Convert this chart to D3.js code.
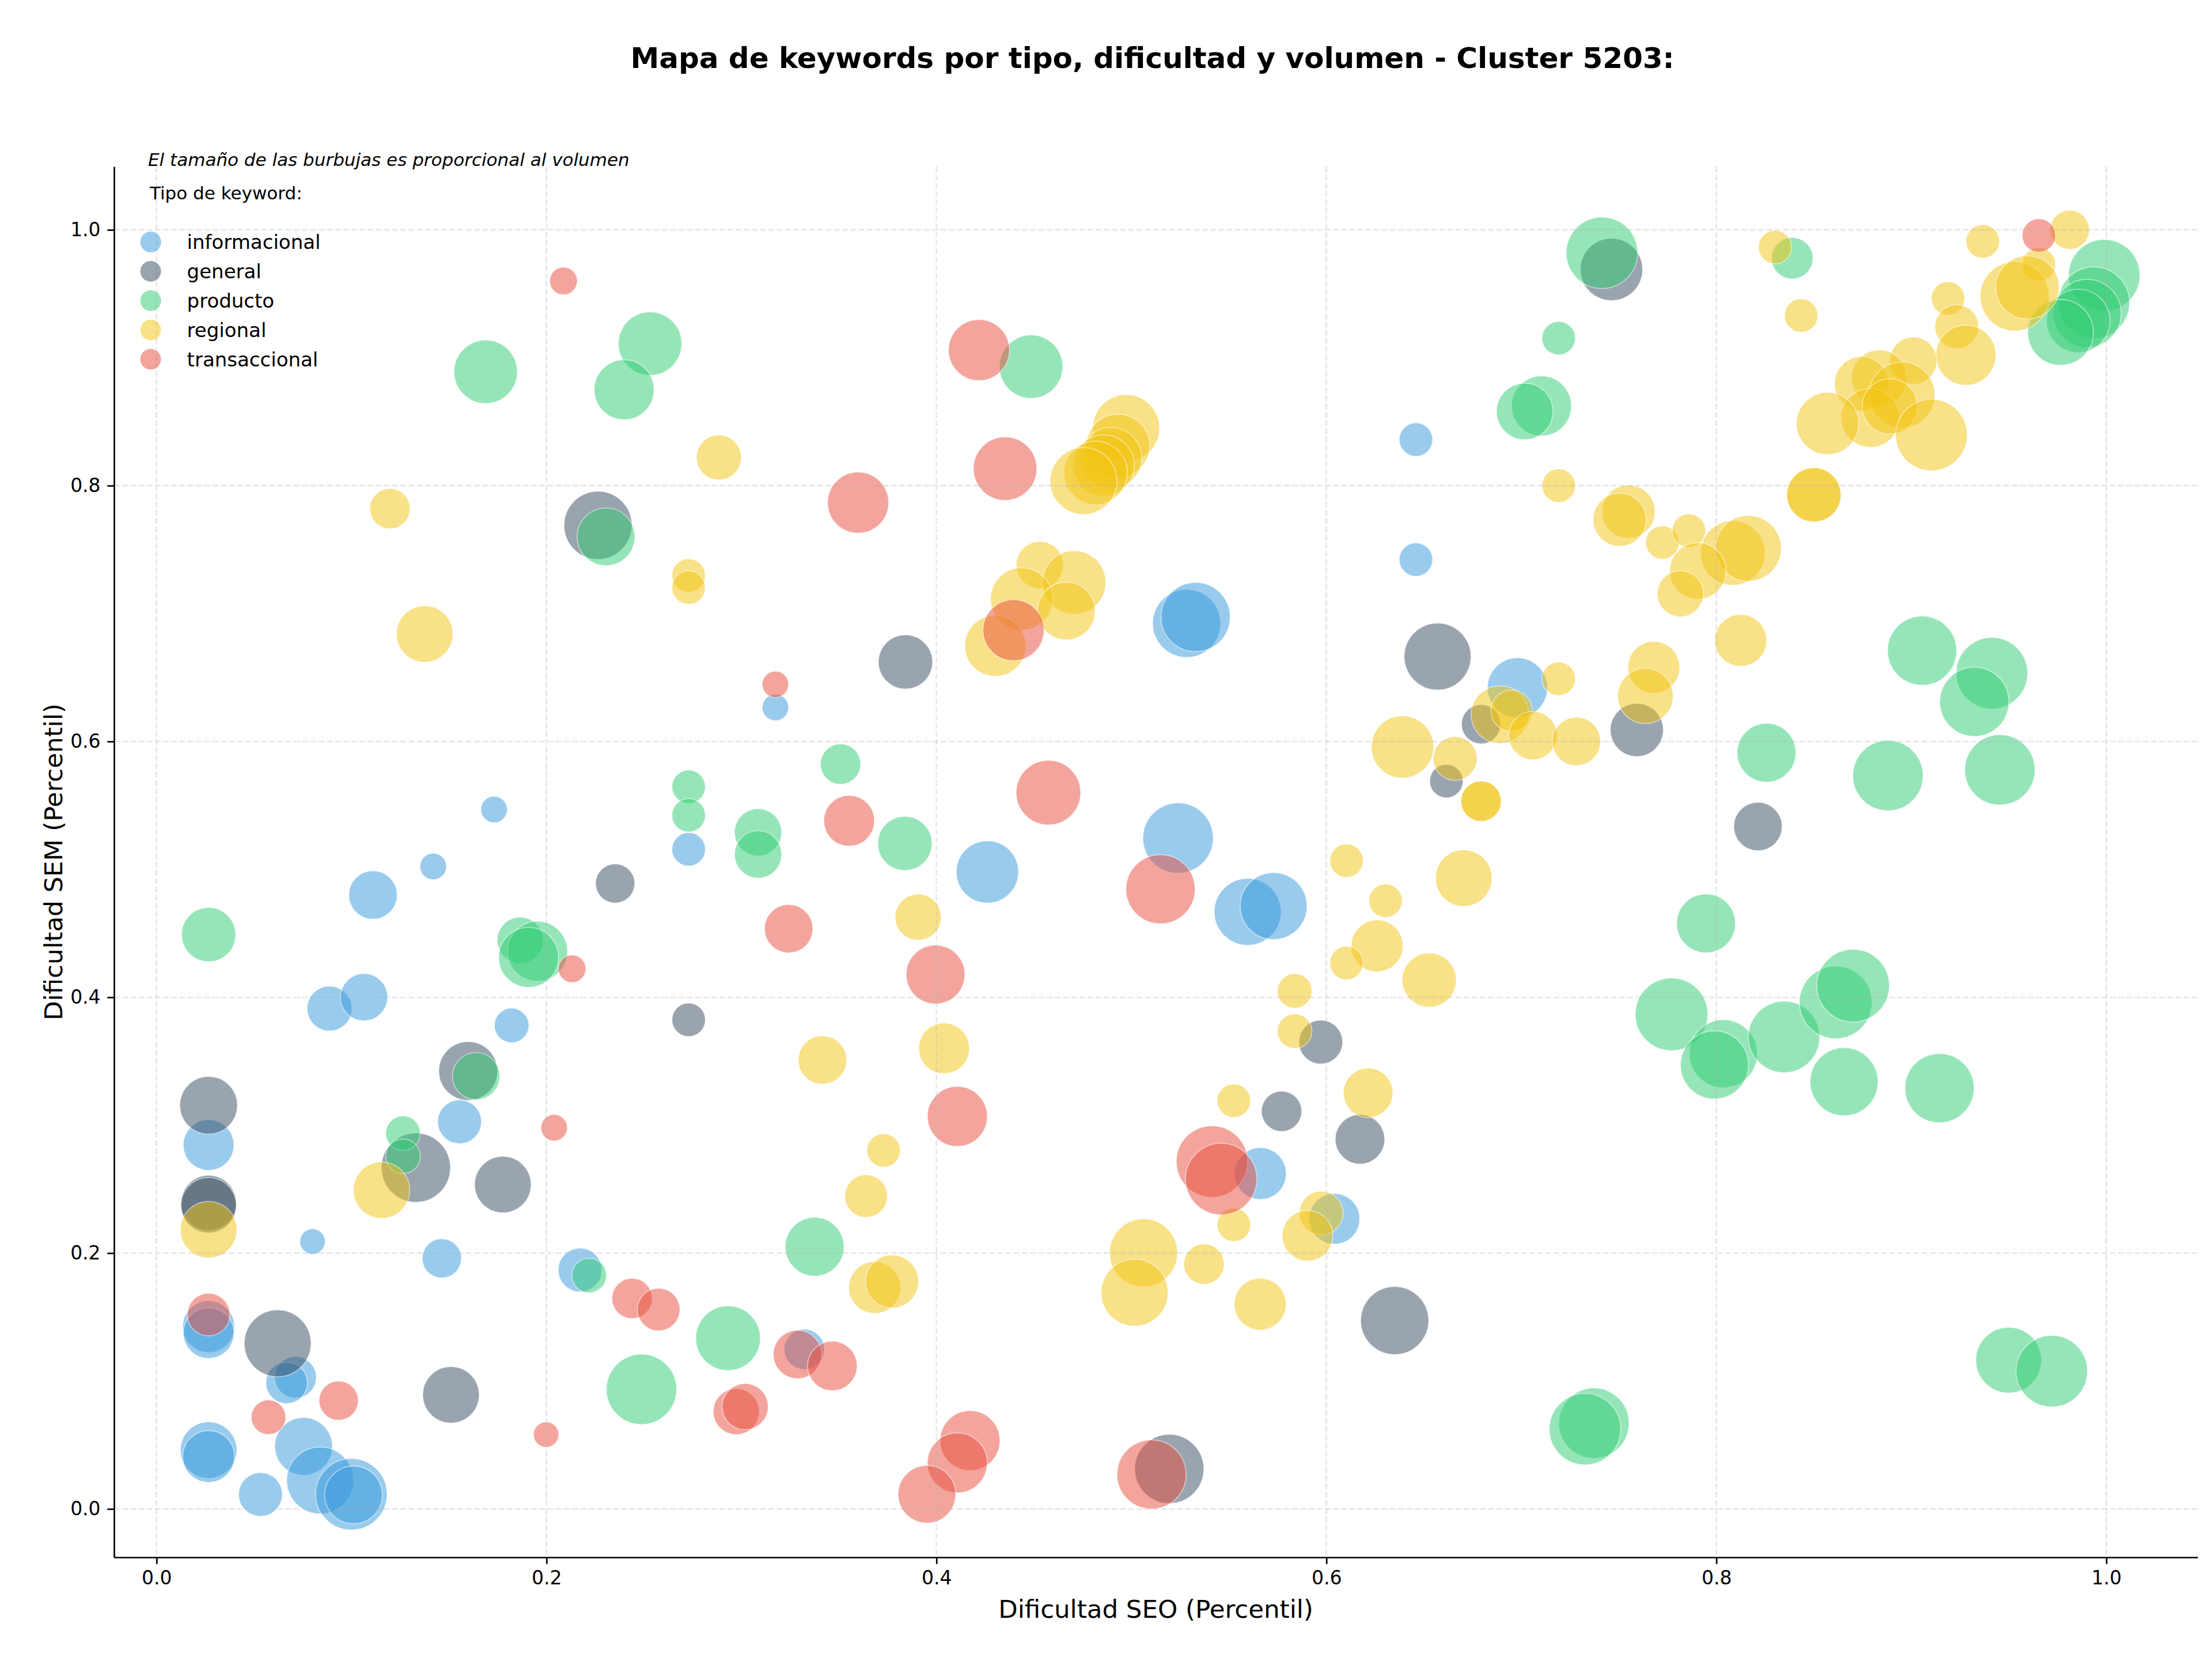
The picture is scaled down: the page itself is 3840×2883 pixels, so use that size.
<!DOCTYPE html>
<html><head><meta charset="utf-8">
<script src="https://cdn.jsdelivr.net/npm/d3@7"></script>
<style>body{margin:0;background:#fff} text{font-family:"DejaVu Sans",sans-serif}</style>
</head><body><svg id="c" width="3840" height="2883"></svg>
<script>
// Tipos de keyword (orden de dibujo y leyenda)
const tipos = ["informacional", "general", "producto", "regional", "transaccional"];

// [Dificultad SEO, Dificultad SEM, Volumen]
const informacional = [
  [0.6459,0.836,2100],[0.6459,0.7422,2100],[0.5283,0.6923,8700],[0.5329,0.6973,9000],[0.698,0.642,6760],
  [0.3174,0.6266,1320],[0.1731,0.5468,1320],[0.1419,0.5023,1320],[0.111,0.480,4410],[0.2729,0.5157,2100],
  [0.0887,0.3912,3800],[0.1064,0.4001,4200],[0.1821,0.378,2250],[0.4261,0.498,7290],[0.5239,0.5245,9300],
  [0.5596,0.4668,8410],[0.5729,0.4713,8410],[0.0267,0.2845,4840],[0.08,0.2091,1210],[0.1554,0.3027,3610],
  [0.1463,0.1959,2890],[0.2172,0.1868,3610],[0.3322,0.1248,3060],[0.0267,0.1425,5060],[0.0267,0.1375,4840],
  [0.0713,0.1029,3240],[0.0667,0.0986,3240],[0.0267,0.046,6000],[0.0267,0.041,5060],[0.0533,0.0113,3610],
  [0.0754,0.0489,6250],[0.0839,0.0223,8410],[0.0999,0.0115,9610],[0.1010,0.0110,6250],[0.5661,0.2622,5060],
  [0.6041,0.2268,4840]
];
const general = [
  [0.7462,0.969,7290],[0.2264,0.769,8700],[0.3841,0.6622,5520],[0.657,0.6664,8410],[0.6793,0.6135,2890],
  [0.6615,0.569,2100],[0.7592,0.609,5290],[0.8213,0.5335,4410],[0.2352,0.489,2890],[0.2729,0.3824,2100],
  [0.1598,0.3424,6500],[0.0267,0.3156,6250],[0.0267,0.2392,5760],[0.0267,0.2374,5760],[0.133,0.2668,9000],
  [0.1776,0.2536,6000],[0.0621,0.1295,8410],[0.151,0.0892,6000],[0.5971,0.365,3610],[0.577,0.3109,3060],
  [0.6172,0.289,4620],[0.635,0.1473,8700],[0.5194,0.0313,9000]
];
const producto = [
  [0.1688,0.889,7560],[0.2531,0.911,7560],[0.2398,0.875,6760],[0.2305,0.760,6250],[0.4485,0.893,7560],
  [0.7413,0.982,9610],[0.7191,0.9153,2100],[0.7103,0.8623,6760],[0.7017,0.858,6000],[0.8389,0.9778,3240],
  [0.9989,0.9645,9610],[0.9936,0.943,9610],[0.9902,0.9347,8700],[0.9856,0.9288,7560],[0.9765,0.9198,8120],
  [0.9055,0.671,9000],[0.0267,0.449,5520],[0.2729,0.5646,2100],[0.2729,0.5423,2100],[0.3085,0.529,4200],
  [0.3085,0.5117,4200],[0.1865,0.4446,4000],[0.1954,0.436,6760],[0.1908,0.4312,6760],[0.1639,0.3383,4200],
  [0.3508,0.5823,3060],[0.3838,0.5203,5520],[0.8257,0.5912,6500],[0.888,0.5733,9300],[0.9454,0.5778,9300],
  [0.9413,0.6534,9610],[0.9323,0.631,9000],[0.7947,0.4578,6500],[0.777,0.3867,9920],[0.8036,0.3559,8700],
  [0.799,0.3471,8700],[0.8347,0.369,9610],[0.8612,0.396,9920],[0.8701,0.4091,9920],[0.8655,0.334,8700],
  [0.9144,0.329,9000],[0.1264,0.2937,2250],[0.1264,0.2757,2250],[0.2219,0.1825,2250],[0.2931,0.1335,7840],
  [0.2487,0.0935,9300],[0.3375,0.205,6500],[0.7372,0.0671,9300],[0.7326,0.0624,9610],[0.9499,0.1163,8120],
  [0.972,0.1077,9610]
];
const regional = [
  [0.2884,0.822,3800],[0.1197,0.782,3060],[0.2729,0.7297,2100],[0.2729,0.7203,2100],[0.1375,0.684,6000],
  [0.4973,0.845,8410],[0.4931,0.8311,7560],[0.4896,0.8216,7020],[0.4858,0.8158,7020],[0.4816,0.810,7560],
  [0.4754,0.8036,8410],[0.453,0.738,4200],[0.4706,0.7243,7560],[0.4437,0.7115,7290],[0.4666,0.702,6250],
  [0.4302,0.6748,7020],[0.7191,0.800,2100],[0.8301,0.9865,2100],[0.8435,0.933,2100],[0.9366,0.991,2100],
  [0.9812,1.0,2890],[0.9654,0.973,2100],[0.953,0.948,9000],[0.9595,0.955,7560],[0.9188,0.9464,2100],
  [0.9233,0.9243,3610],[0.928,0.902,6760],[0.901,0.8977,4200],[0.8836,0.8845,5760],[0.8745,0.8797,5520],
  [0.8952,0.871,8120],[0.879,0.853,6500],[0.889,0.862,5760],[0.857,0.8486,7290],[0.9103,0.8396,9610],
  [0.85,0.7928,5520],[0.85,0.7928,5520],[0.7549,0.7797,5290],[0.7504,0.7734,5290],[0.7723,0.7556,2100],
  [0.7859,0.7648,2100],[0.8084,0.7473,7840],[0.8164,0.751,8120],[0.7905,0.7333,6000],[0.7815,0.7155,4000],
  [0.8125,0.679,5060],[0.7191,0.649,2100],[0.689,0.621,6250],[0.695,0.624,3240],[0.7059,0.6046,4410],
  [0.7282,0.600,4410],[0.7679,0.658,5060],[0.7636,0.6356,5760],[0.639,0.5957,7290],[0.666,0.5867,3610],
  [0.6793,0.5533,3060],[0.6793,0.5533,3060],[0.3906,0.4626,4000],[0.6103,0.5068,2100],[0.6704,0.4932,6000],
  [0.6303,0.4755,2100],[0.626,0.4402,5060],[0.6103,0.4268,2100],[0.6527,0.4135,5520],[0.5837,0.405,2250],
  [0.5837,0.3735,2250],[0.6214,0.3253,4620],[0.4039,0.3601,4840],[0.3415,0.351,4410],[0.5525,0.3192,2100],
  [0.0267,0.2183,6000],[0.1154,0.2492,6000],[0.3729,0.2803,2100],[0.3639,0.2446,3420],[0.3683,0.1731,5060],
  [0.3772,0.1778,5290],[0.5525,0.2221,2100],[0.5973,0.2313,3610],[0.5903,0.2136,4840],[0.5062,0.2002,8700],
  [0.5016,0.1691,8410],[0.5372,0.1914,3060],[0.566,0.1601,5060]
];
const transaccional = [
  [0.2087,0.960,1440],[0.4218,0.906,7020],[0.4352,0.8133,7560],[0.3598,0.7867,7020],[0.4395,0.687,7020],
  [0.9654,0.9956,2100],[0.3174,0.6446,1320],[0.3242,0.4536,4410],[0.2131,0.4223,1440],[0.3552,0.538,4840],
  [0.4574,0.56,7840],[0.5149,0.4845,9000],[0.3995,0.4178,6500],[0.4107,0.3069,6760],[0.2039,0.298,1320],
  [0.2439,0.1646,3060],[0.2575,0.1559,3420],[0.0267,0.152,3420],[0.0574,0.0717,2250],[0.0934,0.0847,2890],
  [0.1998,0.0581,1210],[0.2973,0.0761,4000],[0.3019,0.080,4000],[0.3287,0.1208,4410],[0.3466,0.1118,4620],
  [0.5413,0.2716,9610],[0.546,0.2579,9610],[0.4172,0.0534,6760],[0.4107,0.036,6760],[0.3951,0.0115,6250],
  [0.5103,0.027,9000]
];

const xTicks = [0.0, 0.2, 0.4, 0.6, 0.8, 1.0];
const yTicks = [0.0, 0.2, 0.4, 0.6, 0.8, 1.0];

const series = { informacional, general, producto, regional, transaccional };
const colores = { informacional: "#3498db", general: "#34495e", producto: "#2ecc71", regional: "#f1c40f", transaccional: "#e74c3c" };

const W = 3840, H = 2883;
const L = 198, R = 3815, T = 289, B = 2703;
const svg = d3.select("#c");
svg.append("rect").attr("width", W).attr("height", H).attr("fill", "#fff");

const x = d3.scaleLinear().domain([-0.0218, 1.0468]).range([L, R]);
const y = d3.scaleLinear().domain([-0.0378, 1.0495]).range([B, T]);
const r = d3.scaleSqrt().domain([0, 10000]).range([0, 63.25]);

// bubbles
const plot = svg.append("g");
tipos.forEach(t => {
  plot.append("g").selectAll("circle").data(series[t]).join("circle")
    .attr("cx", d => x(d[0])).attr("cy", d => y(d[1])).attr("r", d => r(d[2]))
    .attr("fill", colores[t]).attr("fill-opacity", 0.5)
    .attr("stroke", "#fff").attr("stroke-opacity", 0.5).attr("stroke-width", 1.7);
});

// grid
const grid = svg.append("g");
grid.selectAll(".gx").data(xTicks).join("line")
  .attr("x1", d => x(d)).attr("x2", d => x(d)).attr("y1", T).attr("y2", B)
  .attr("stroke", "#b0b0b0").attr("stroke-opacity", 0.3).attr("stroke-width", 2.67).attr("stroke-dasharray", "9.9,4.3");
grid.selectAll(".gy").data(yTicks).join("line")
  .attr("y1", d => y(d)).attr("y2", d => y(d)).attr("x1", L).attr("x2", R)
  .attr("stroke", "#b0b0b0").attr("stroke-opacity", 0.3).attr("stroke-width", 2.67).attr("stroke-dasharray", "9.9,4.3");

// axes
const fmt = d3.format(".1f");
const gx = svg.append("g").attr("transform", `translate(0,${B})`)
  .call(d3.axisBottom(x).tickValues(xTicks).tickFormat(fmt).tickSize(11.7).tickSizeOuter(0).tickPadding(11.7));
const gy = svg.append("g").attr("transform", `translate(${L},0)`)
  .call(d3.axisLeft(y).tickValues(yTicks).tickFormat(fmt).tickSize(11.7).tickSizeOuter(0).tickPadding(11.7));
[gx, gy].forEach(g => {
  g.select(".domain").attr("stroke", "#000").attr("stroke-width", 2.67);
  g.selectAll(".tick line").attr("stroke", "#000").attr("stroke-width", 2.67);
  g.selectAll(".tick text").attr("font-size", 33).attr("fill", "#000").attr("font-family", "DejaVu Sans");
});

// labels
svg.append("text").attr("x", (L + R) / 2).attr("y", 2808).attr("text-anchor", "middle")
  .attr("font-size", 43.5).text("Dificultad SEO (Percentil)");
svg.append("text").attr("transform", `translate(108,${(T + B) / 2}) rotate(-90)`).attr("text-anchor", "middle")
  .attr("font-size", 43.5).text("Dificultad SEM (Percentil)");
svg.append("text").attr("x", (L + R) / 2 - 6).attr("y", 118).attr("text-anchor", "middle")
  .attr("font-size", 50).attr("font-weight", "bold").text("Mapa de keywords por tipo, dificultad y volumen - Cluster 5203:");
svg.append("text").attr("x", 257).attr("y", 288).attr("font-size", 31).attr("font-style", "italic")
  .text("El tamaño de las burbujas es proporcional al volumen");

// legend
const lg = svg.append("g");
lg.append("text").attr("x", 260).attr("y", 346).attr("font-size", 31).text("Tipo de keyword:");
tipos.forEach((t, i) => {
  const cy = 420 + i * 50.9;
  lg.append("circle").attr("cx", 261.6).attr("cy", cy).attr("r", 18)
    .attr("fill", colores[t]).attr("fill-opacity", 0.5);
  lg.append("text").attr("x", 324.6).attr("y", cy + 12).attr("font-size", 34).text(t);
});
</script></body></html>
